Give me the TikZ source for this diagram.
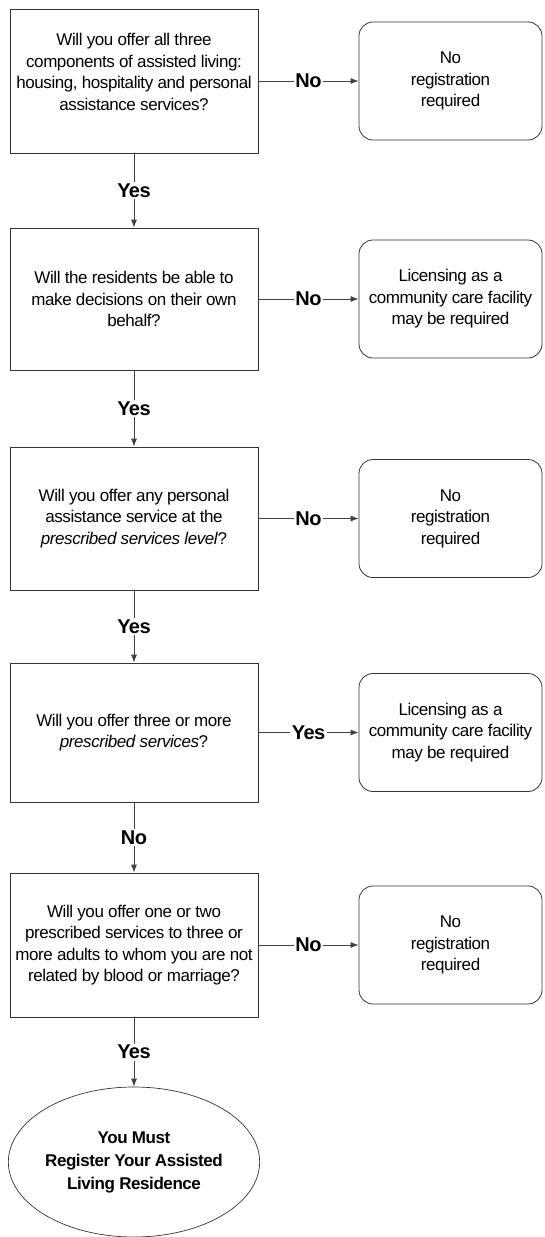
\documentclass[tikz,border=0pt]{standalone}
\usepackage{fontspec}
\setmainfont{Liberation Sans}[LetterSpace=-2.5]
\usetikzlibrary{shapes.geometric,arrows.meta}
\tikzset{
  qbox/.style={draw=black!80, line width=0.8pt, minimum width=248pt, align=center,
    font=\fontsize{17}{21.5}\selectfont, inner sep=0pt},
  rbox/.style={draw=black!80, line width=0.8pt, rounded corners=14pt, minimum width=183pt,
    minimum height=118pt, align=center, font=\fontsize{17}{21.5}\selectfont, inner sep=0pt},
  endell/.style={draw=black!80, line width=0.7pt, ellipse, minimum width=246pt, minimum height=150pt,
    inner sep=0pt, align=center, font=\fontsize{17}{23}\selectfont\bfseries},
  conn/.style={draw=black!75, line width=0.8pt},
  arr/.style={conn, -{Latex[length=8pt,width=6pt]}},
  lbl/.style={fill=white, inner sep=1.5pt, font=\fontsize{20}{22}\selectfont\bfseries}
}
\begin{document}
\begin{tikzpicture}[x=1pt,y=-1pt]
\useasboundingbox (0,0) rectangle (544,1237);
% question boxes
\node[qbox, minimum height=144pt] (q1) at (134,81) {};
\node[align=center, font=\fontsize{17}{21.5}\selectfont, inner sep=0pt] (q1t) at (134,72) {Will you offer all three\\components of assisted living:\\housing, hospitality and personal\\assistance services?};
\node[qbox, minimum height=142pt] (q2) at (134,299) {Will the residents be able to\\make decisions on their own\\behalf?};
\node[qbox, minimum height=143pt] (q3) at (134,518.5) {Will you offer any personal\\assistance service at the\\\textit{prescribed services level}?};
\node[qbox, minimum height=139pt] (q4) at (134,732.5) {Will you offer three or more\\\textit{prescribed services}?};
\node[qbox, minimum height=144pt] (q5) at (134,945) {Will you offer one or two\\prescribed services to three or\\more adults to whom you are not\\related by blood or marriage?};
% result boxes
\node[rbox] (r1) at (450.5,81) {No\\registration\\required};
\node[rbox] (r2) at (450.5,299) {Licensing as a\\community care facility\\may be required};
\node[rbox] (r3) at (450.5,518.5) {No\\registration\\required};
\node[rbox] (r4) at (450.5,732.5) {Licensing as a\\community care facility\\may be required};
\node[rbox] (r5) at (450.5,945) {No\\registration\\required};
% final
\node[endell] (fin) at (134,1162) {You Must\\Register Your Assisted\\Living Residence};
% horizontal connectors
\draw[arr] (q1.east) -- node[lbl] {No} (r1.west);
\draw[arr] (q2.east) -- node[lbl] {No} (r2.west);
\draw[arr] (q3.east) -- node[lbl] {No} (r3.west);
\draw[arr] (q4.east) -- node[lbl] {Yes} (r4.west);
\draw[arr] (q5.east) -- node[lbl] {No} (r5.west);
% vertical connectors
\draw[arr] (q1.south) -- node[lbl] {Yes} (q2.north);
\draw[arr] (q2.south) -- node[lbl] {Yes} (q3.north);
\draw[arr] (q3.south) -- node[lbl] {Yes} (q4.north);
\draw[arr] (q4.south) -- node[lbl] {No} (q5.north);
\draw[arr] (q5.south) -- node[lbl] {Yes} (fin.north);
\end{tikzpicture}
\end{document}
